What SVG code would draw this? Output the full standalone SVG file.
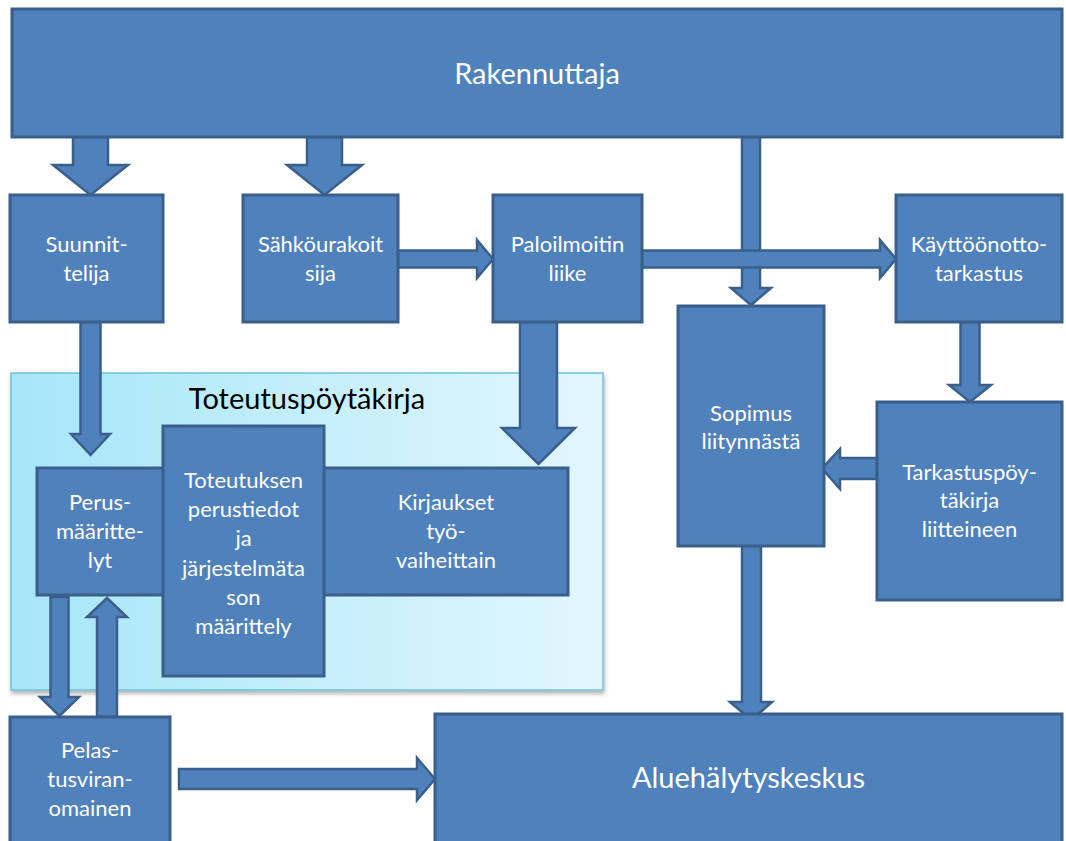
<svg xmlns="http://www.w3.org/2000/svg" width="1066" height="841" viewBox="0 0 1066 841">
<defs>
<linearGradient id="cg" x1="0" y1="0" x2="1" y2="0">
<stop offset="0" stop-color="#A6E6F8"/>
<stop offset="1" stop-color="#E2F7FD"/>
</linearGradient>
<filter id="sh" x="-5%" y="-5%" width="110%" height="115%">
<feDropShadow dx="1" dy="3" stdDeviation="2" flood-color="#000" flood-opacity="0.3"/>
</filter>
</defs>
<style>
.box{fill:#4F81BD;stroke:#3A5F8B;stroke-width:3}
.arr{fill:#4F81BD;stroke:#3A5F8B;stroke-width:2.5;stroke-linejoin:miter}
.t{font-family:Lato,"Open Sans","Liberation Sans",sans-serif;fill:#FFFFFF;font-size:22px;text-anchor:middle}
.big{font-size:29px}
.title{font-family:Lato,"Open Sans","Liberation Sans",sans-serif;fill:#000000;font-size:29px;text-anchor:middle}
</style>
<rect x="0" y="0" width="1066" height="841" fill="#FFFFFF"/>

<g id="toteutuspoytakirja">
<rect x="11" y="373" width="592" height="317" fill="url(#cg)" stroke="#6CC4DA" stroke-width="1.5" filter="url(#sh)"/>
<text class="title" x="307" y="409">Toteutuspöytäkirja</text>
</g>

<g id="connectors">
<polygon class="arr" points="73,137 108,137 108,165 128,165 90.5,195 53,165 73,165"/>
<polygon class="arr" points="307,137 342,137 342,165 362,165 324.5,195 287,165 307,165"/>
<polygon class="arr" points="742,137 760,137 760,288 771,288 751,305 731,288 742,288"/>
<polygon class="arr" points="398,250.5 477,250.5 477,240 493,259 477,278 477,267.5 398,267.5"/>
<polygon class="arr" points="642,250.5 880,250.5 880,240 896,259 880,278 880,267.5 642,267.5"/>
<polygon class="arr" points="960.5,322 979.5,322 979.5,385 991,385 970,402 949,385 960.5,385"/>
<polygon class="arr" points="877,458 840,458 840,449 822,468.5 840,489 840,479 877,479"/>
<polygon class="arr" points="742,546 761,546 761,702 772,702 751.5,720 730,702 742,702"/>
<polygon class="arr" points="80.5,322 100.5,322 100.5,434 110,434 90.5,455 71,434 80.5,434"/>
<polygon class="arr" points="520,322 557,322 557,428 575,428 538.5,464 502,428 520,428"/>
<polygon class="arr" points="50.5,597 68.5,597 68.5,697 79,697 59.5,716 40,697 50.5,697"/>
<polygon class="arr" points="97,717 117,717 117,617 127,617 107,598 87,617 97,617"/>
<polygon class="arr" points="179,769 417,769 417,758 435,779 417,800 417,789 179,789"/>
</g>

<g id="rakennuttaja">
<rect class="box" x="12" y="9" width="1050" height="128"/>
<text class="t big" x="537" y="84">Rakennuttaja</text>
</g>

<g id="suunnittelija">
<rect class="box" x="10" y="195" width="153" height="127"/>
<text class="t" x="86.5" y="252">Suunnit-</text>
<text class="t" x="86.5" y="281">telija</text>
</g>

<g id="sahkourakoitsija">
<rect class="box" x="243" y="195" width="155" height="127"/>
<text class="t" x="320.5" y="252">Sähköurakoit</text>
<text class="t" x="320.5" y="281">sija</text>
</g>

<g id="paloilmoitinliike">
<rect class="box" x="493" y="195" width="149" height="127"/>
<text class="t" x="567.5" y="252">Paloilmoitin</text>
<text class="t" x="567.5" y="281">liike</text>
</g>

<g id="kayttoonottotarkastus">
<rect class="box" x="896" y="195" width="166" height="127"/>
<text class="t" x="979" y="252">Käyttöönotto-</text>
<text class="t" x="979" y="281">tarkastus</text>
</g>

<g id="sopimus">
<rect class="box" x="678" y="306" width="146" height="240"/>
<text class="t" x="751" y="421">Sopimus</text>
<text class="t" x="751" y="449">liitynnästä</text>
</g>

<g id="tarkastuspoytakirja">
<rect class="box" x="877" y="402" width="185" height="198"/>
<text class="t" x="969.5" y="480">Tarkastuspöy-</text>
<text class="t" x="969.5" y="508">täkirja</text>
<text class="t" x="969.5" y="537">liitteineen</text>
</g>

<g id="perusmaarittelyt">
<rect class="box" x="37" y="468" width="130" height="127"/>
<text class="t" x="100" y="510">Perus-</text>
<text class="t" x="100" y="539">määritte-</text>
<text class="t" x="100" y="568">lyt</text>
</g>

<g id="kirjaukset">
<rect class="box" x="320" y="468" width="248" height="127"/>
<text class="t" x="446" y="510">Kirjaukset</text>
<text class="t" x="446" y="539">työ-</text>
<text class="t" x="446" y="568">vaiheittain</text>
</g>

<g id="toteutuksen">
<rect class="box" x="163" y="426" width="161" height="250"/>
<text class="t" x="243.5" y="488">Toteutuksen</text>
<text class="t" x="243.5" y="517">perustiedot</text>
<text class="t" x="243.5" y="546">ja</text>
<text class="t" x="243.5" y="576">järjestelmäta</text>
<text class="t" x="243.5" y="605">son</text>
<text class="t" x="243.5" y="634">määrittely</text>
</g>

<g id="pelastusviranomainen">
<rect class="box" x="10" y="717" width="160" height="140"/>
<text class="t" x="90" y="758">Pelas-</text>
<text class="t" x="90" y="787">tusviran-</text>
<text class="t" x="90" y="816">omainen</text>
</g>

<g id="aluehalytyskeskus">
<rect class="box" x="435" y="714" width="627" height="140"/>
<text class="t big" x="748.5" y="788">Aluehälytyskeskus</text>
</g>
</svg>
